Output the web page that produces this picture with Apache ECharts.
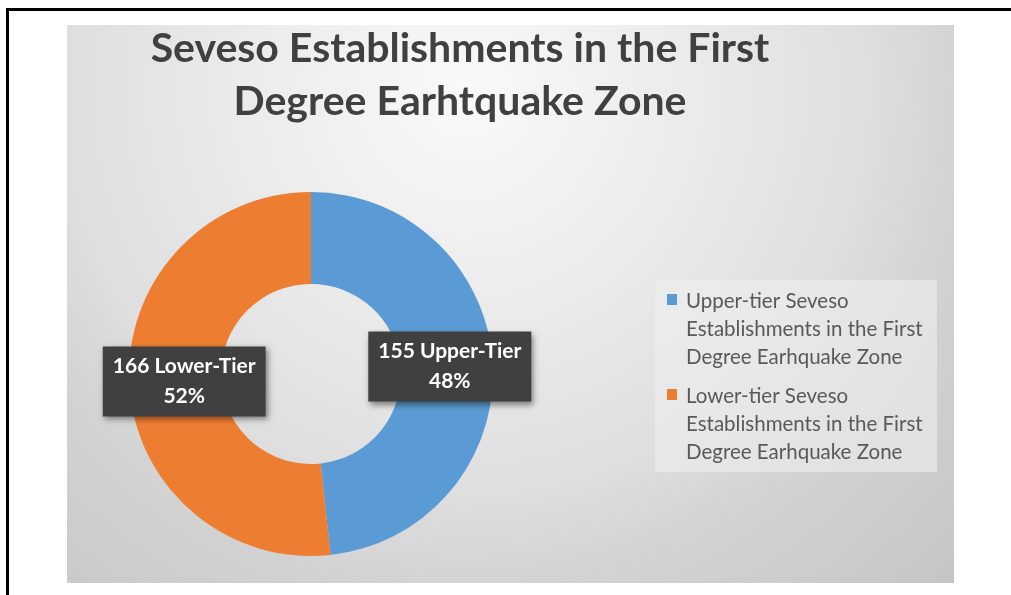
<!DOCTYPE html>
<html>
<head>
<meta charset="utf-8">
<script src="https://cdn.jsdelivr.net/npm/echarts@6/dist/echarts.min.js"></script>
<style>
  html, body { margin: 0; padding: 0; background: #ffffff; }
  #chart { width: 1011px; height: 595px; }
</style>
</head>
<body>
<div id="chart"></div>
<script>
// Tier names used in the ring labels
const tierLabels = ['Upper-Tier', 'Lower-Tier'];
// Number of establishments per tier
const tierCounts = [155, 166];
// Full legend entries
const legendNames = [
  'Upper-tier Seveso Establishments in the First Degree Earhquake Zone',
  'Lower-tier Seveso Establishments in the First Degree Earhquake Zone'
];
const tierColors = ['#5B9BD5', '#ED7D31'];
const titleText = 'Seveso Establishments in the First\nDegree Earhtquake Zone';

const FONT = 'Lato, "Open Sans", sans-serif';

const chart = echarts.init(document.getElementById('chart'), null, { renderer: 'canvas' });

// Panel background, frame lines and the legend block
const graphics = [
  { type: 'rect', z: -10, shape: { x: 67, y: 25, width: 887, height: 558 },
    style: { fill: new echarts.graphic.RadialGradient(0.45, 0.12, 1.25, [
      { offset: 0, color: '#f9f9f9' },
      { offset: 0.3, color: '#ececec' },
      { offset: 0.58, color: '#dedede' },
      { offset: 0.72, color: '#d2d2d2' },
      { offset: 0.9, color: '#cacaca' },
      { offset: 1, color: '#c4c4c4' }
    ]) } },
  { type: 'rect', shape: { x: 6, y: 8, width: 1005, height: 3 }, style: { fill: '#000' } },
  { type: 'rect', shape: { x: 6, y: 8, width: 3, height: 587 }, style: { fill: '#000' } },
  { type: 'rect', z: -5, shape: { x: 655, y: 280, width: 282, height: 192 },
    style: { fill: 'rgba(238,238,238,0.6)' } }
];

const legendTop = [287, 382];
legendNames.forEach((name, i) => {
  graphics.push({ type: 'rect', shape: { x: 667, y: legendTop[i] + 7, width: 10, height: 11 },
    style: { fill: tierColors[i] } });
  graphics.push({ type: 'text', x: 686, y: legendTop[i],
    style: { text: name, width: 252, overflow: 'break', lineHeight: 28,
      font: '20.5px ' + FONT, fill: '#595959', verticalAlign: 'top', align: 'left' } });
});

chart.setOption({
  animation: false,
  title: {
    text: titleText,
    left: 460,
    top: 22,
    padding: 0,
    textAlign: 'center',
    textStyle: { fontFamily: FONT, fontSize: 41, fontWeight: 'bold', color: '#404040', lineHeight: 53 }
  },
  graphic: graphics,
  series: [{
    type: 'pie',
    center: [311, 374],
    radius: [90, 182],
    startAngle: 90,
    clockwise: true,
    percentPrecision: 0,
    avoidLabelOverlap: false,
    label: {
      show: true,
      position: 'inside',
      formatter: '{c} {b}\n{d}%',
      color: '#ffffff',
      fontFamily: FONT,
      fontSize: 21,
      fontWeight: 'bold',
      lineHeight: 30,
      align: 'center',
      backgroundColor: '#404040',
      padding: [5, 10],
      shadowColor: 'rgba(0,0,0,0.45)',
      shadowBlur: 6,
      shadowOffsetX: 2,
      shadowOffsetY: 3
    },
    labelLine: { show: false },
    emphasis: { disabled: true },
    data: tierLabels.map((n, i) => ({
      name: n, value: tierCounts[i], itemStyle: { color: tierColors[i] },
      label: { offset: i === 1 ? [12, 0] : [0, 0] }
    }))
  }]
});
</script>
</body>
</html>
